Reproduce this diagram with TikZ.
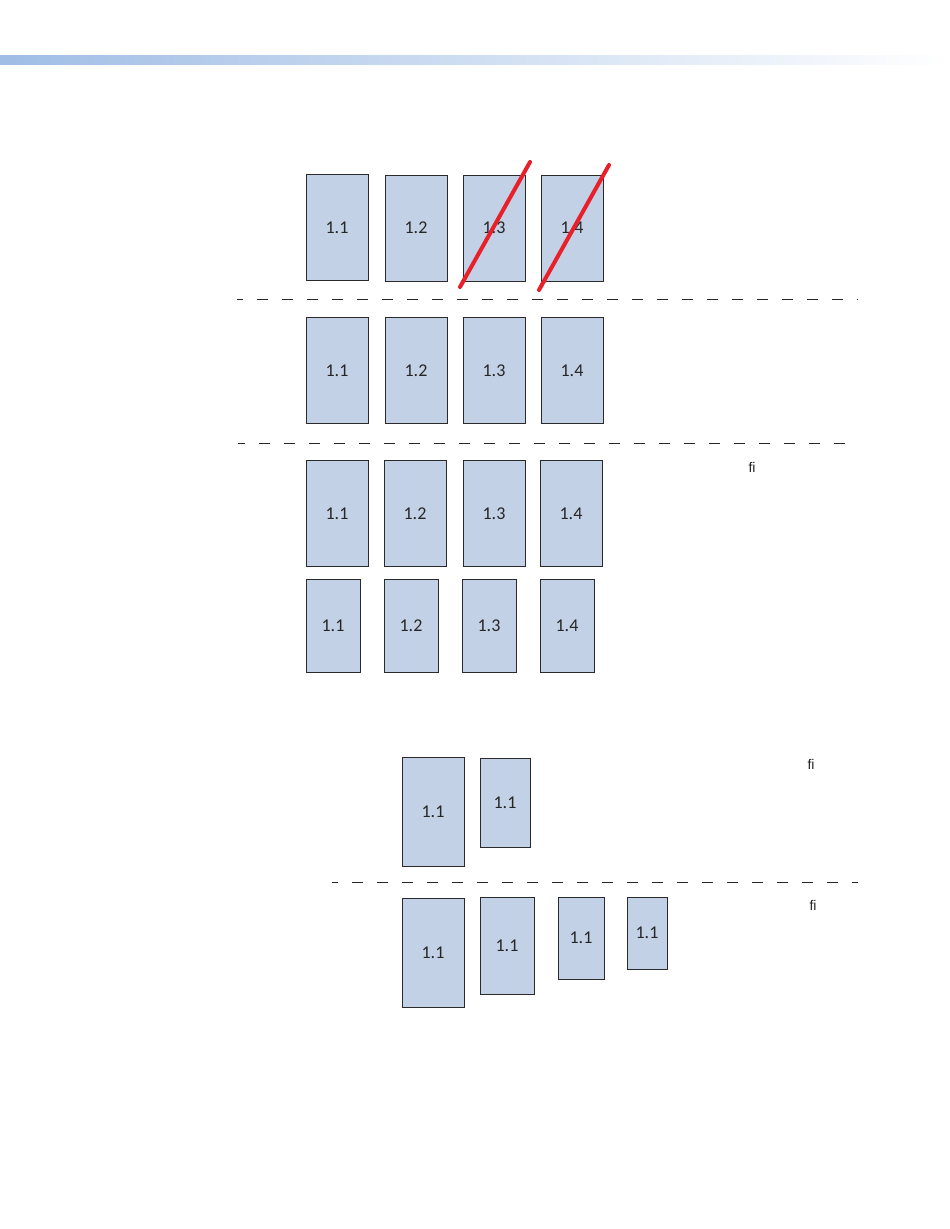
\documentclass[tikz,border=0pt]{standalone}
\usepackage{fontspec}
\setmainfont{Carlito}
\newfontfamily\arialfont{Liberation Sans}
\usetikzlibrary{calc}

\definecolor{pagefill}{HTML}{C3D1E6}
\definecolor{pageline}{HTML}{2A2A2A}
\definecolor{barleft}{HTML}{9FBDE5}
\definecolor{barmid}{HTML}{DAE4F3}
\definecolor{crossred}{HTML}{E8202A}

\begin{document}
\begin{tikzpicture}[x=1pt,y=-1pt]
\tikzstyle{page}=[draw=pageline,fill=pagefill,line width=0.8pt,inner sep=0pt,text=black!85,font=\fontsize{18}{20}\selectfont]
\tikzstyle{tall}=[page,minimum width=62pt,minimum height=106pt]
\tikzstyle{cut}=[dash pattern=on 11pt off 14pt,dash phase=5pt,line width=0.9pt,black!85]
\tikzstyle{strike}=[crossred,line width=4pt,line cap=round]
\tikzstyle{note}=[font=\arialfont\fontsize{14}{16}\selectfont,text=black!85]
\useasboundingbox (0,0) rectangle (950,1229);
\shade[left color=barleft,middle color=barmid,right color=white] (0,55) rectangle (950,64);
% first row, two pages struck out
\node[tall] (a1) at (337,227.5) {1.1};
\node[tall] (a2) at (416,228) {1.2};
\node[tall] (a3) at (494,228) {1.3};
\node[tall] (a4) at (572,228) {1.4};
\coordinate (s1) at (460,287);
\coordinate (e1) at (530,162);
\coordinate (s2) at (539,290);
\coordinate (e2) at (609,165);
\draw[strike] (s1) -- (e1);
\draw[strike] (s2) -- (e2);
\coordinate (l1) at (237,299);
\coordinate (r1) at (858,299);
\draw[cut] (l1) -- (r1);
% second row
\node[tall] (b1) at (337,370.5) {1.1};
\node[tall] (b2) at (416,370.5) {1.2};
\node[tall] (b3) at (494,370.5) {1.3};
\node[tall] (b4) at (572,370.5) {1.4};
\coordinate (l2) at (238,443);
\coordinate (r2) at (858,443);
\draw[cut,dash phase=4pt] (l2) -- (r2);
% third row and its smaller copy
\node[tall] (c1) at (337,513.5) {1.1};
\node[tall] (c2) at (415,513.5) {1.2};
\node[tall] (c3) at (494,513.5) {1.3};
\node[tall] (c4) at (571,513.5) {1.4};
\node[note] (n1) at (752,467) {fi};
\node[page,minimum width=54pt,minimum height=93pt] (d1) at (333,625.5) {1.1};
\node[page,minimum width=54pt,minimum height=93pt] (d2) at (411,625.5) {1.2};
\node[page,minimum width=54pt,minimum height=93pt] (d3) at (489,625.5) {1.3};
\node[page,minimum width=54pt,minimum height=93pt] (d4) at (567,625.5) {1.4};
% lower group
\node[page,minimum width=62pt,minimum height=109pt] (e1p) at (433,811.5) {1.1};
\node[page,minimum width=50pt,minimum height=89pt] (e2p) at (505,802.5) {1.1};
\node[note] (n2) at (811,764) {fi};
\coordinate (l3) at (332,882);
\coordinate (r3) at (858,882);
\draw[cut] (l3) -- (r3);
\node[page,minimum width=62pt,minimum height=109pt] (f1) at (433,952.5) {1.1};
\node[page,minimum width=54pt,minimum height=97pt] (f2) at (507,945.5) {1.1};
\node[page,minimum width=46pt,minimum height=82pt] (f3) at (581,938) {1.1};
\node[page,minimum width=40pt,minimum height=72pt] (f4) at (647,933) {1.1};
\node[note] (n3) at (813,905) {fi};
\end{tikzpicture}
\end{document}
